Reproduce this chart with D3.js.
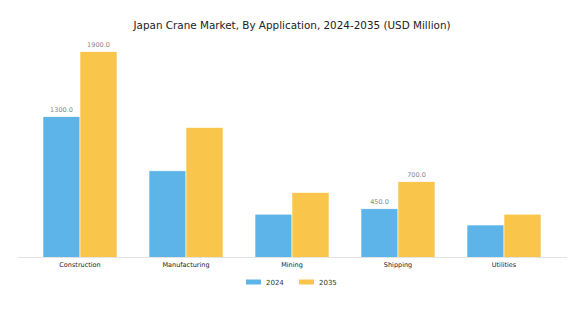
<!DOCTYPE html>
<html>
<head>
<meta charset="utf-8">
<script src="https://cdn.jsdelivr.net/npm/d3@7"></script>
<style>
  body { margin: 0; background: #fff; }
  svg { font-family: "DejaVu Sans", sans-serif; }
</style>
</head>
<body>
<svg id="chart" width="586" height="310"></svg>
<script>
var categories = ['Construction', 'Manufacturing', 'Mining', 'Shipping', 'Utilities'];
var years = ['2024', '2035'];
var values2024 = [1300, 800, 400, 450, 300];
var values2035 = [1900, 1200, 600, 700, 400];
// only some bars carry a value label in the original
var labelled = ['Construction', 'Shipping'];
var colors = ['#5db4e9', '#f9c54b'];

var svg = d3.select('#chart');
var width = 586, height = 310;

let x0 = d3.scaleBand()
  .domain(categories)
  .range([27, 557])
  .paddingInner(0.302)
  .paddingOuter(0.151);

let x1 = d3.scaleBand()
  .domain(years)
  .range([0, x0.bandwidth()]);

let y = d3.scaleLinear()
  .domain([0, 1900])
  .range([257.5, 51.7]);

svg.append('text')
  .attr('x', 292)
  .attr('y', 29)
  .attr('text-anchor', 'middle')
  .attr('font-size', 10.4)
  .attr('fill', '#222')
  .text('Japan Crane Market, By Application, 2024-2035 (USD Million)');

var rows = categories.map(function(c, i) {
  return { cat: c, vals: [values2024[i], values2035[i]] };
});

let groups = svg.append('g')
  .selectAll('g')
  .data(rows)
  .enter()
  .append('g')
  .attr('transform', function(d) { return 'translate(' + x0(d.cat) + ',0)'; });

groups.selectAll('rect')
  .data(function(d) { return d.vals.map(function(v, j) { return { year: years[j], v: v, j: j }; }); })
  .enter()
  .append('rect')
  .attr('x', function(d) { return x1(d.year); })
  .attr('y', function(d) { return y(d.v); })
  .attr('width', x1.bandwidth())
  .attr('height', function(d) { return y(0) - y(d.v); })
  .attr('fill', function(d) { return colors[d.j]; })
  .attr('stroke', '#fff')
  .attr('stroke-width', 0.6);

groups.filter(function(d) { return labelled.indexOf(d.cat) >= 0; })
  .selectAll('text.val')
  .data(function(d) { return d.vals.map(function(v, j) { return { year: years[j], v: v }; }); })
  .enter()
  .append('text')
  .attr('class', 'val')
  .attr('x', function(d) { return x1(d.year) + x1.bandwidth() / 2; })
  .attr('y', function(d) { return y(d.v) - 5; })
  .attr('text-anchor', 'middle')
  .attr('font-size', 6.5)
  .attr('fill', '#888')
  .text(function(d) { return d.v.toFixed(1); });

// x axis
let xAxis = svg.append('g')
  .attr('transform', 'translate(0,' + y(0) + ')')
  .call(d3.axisBottom(x0).tickSize(0).tickPadding(5));
xAxis.select('.domain').remove();
xAxis.append('line')
  .attr('x1', 18).attr('x2', 567)
  .attr('stroke', '#e3e3e3')
  .attr('stroke-width', 1);
xAxis.selectAll('text')
  .attr('font-family', '"DejaVu Sans", sans-serif')
  .attr('font-size', 6.5)
  .attr('fill', '#222');

// legend
let legend = svg.append('g')
  .selectAll('g')
  .data(years)
  .enter()
  .append('g')
  .attr('transform', function(d, i) { return 'translate(' + (246 + i * 53) + ',282)'; });

legend.append('rect')
  .attr('x', 0).attr('y', -2.5)
  .attr('width', 15).attr('height', 5)
  .attr('fill', function(d, i) { return colors[i]; });

legend.append('text')
  .attr('x', 20).attr('y', 2.5)
  .attr('font-size', 7)
  .attr('fill', '#333')
  .text(function(d) { return d; });
</script>
</body>
</html>
